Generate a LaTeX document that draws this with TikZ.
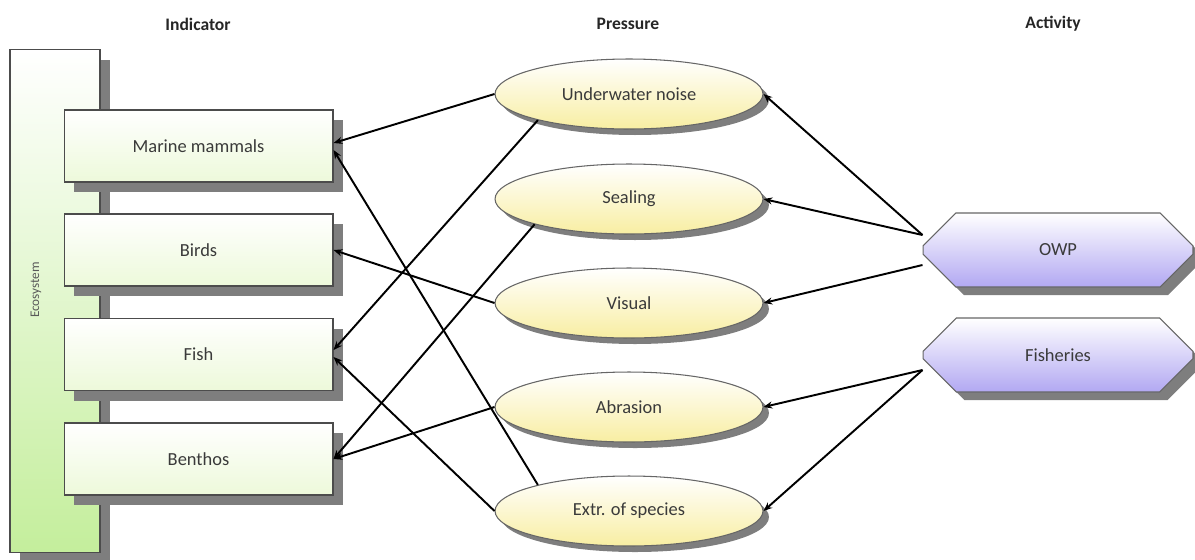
\documentclass[tikz,border=0pt]{standalone}
\usepackage{fontspec}
\setmainfont{Carlito}
\usetikzlibrary{shapes.geometric,shapes.misc,shadows,arrows.meta}
\definecolor{indgreen}{HTML}{EDF9DA}
\definecolor{ecogreen}{HTML}{C4EE9C}
\definecolor{presyellow}{HTML}{F8EEA2}
\definecolor{actlilac}{HTML}{B2A8F2}
\definecolor{shadegray}{HTML}{7E7E7E}
\definecolor{txtgray}{HTML}{3A3A3A}
\tikzset{
	txt/.style={font=\fontsize{10.5}{12}\selectfont,text=txtgray},
	head/.style={font=\fontsize{10}{12}\selectfont\bfseries,text=black!85},
	indbox/.style={txt,rectangle,draw=black!70,line width=.6pt,minimum width=5.38cm,minimum height=1.44cm,top color=white,bottom color=indgreen,drop shadow={shadow xshift=.2cm,shadow yshift=-.2cm,fill=shadegray,opacity=1}},
	ecobox/.style={rectangle,draw=black!70,line width=.6pt,minimum width=1.8cm,minimum height=10.06cm,top color=white,bottom color=ecogreen,drop shadow={shadow xshift=.2cm,shadow yshift=-.2cm,fill=shadegray,opacity=1}},
	presell/.style={txt,ellipse,draw=black!60,line width=.6pt,inner sep=0pt,minimum width=5.36cm,minimum height=1.4cm,top color=white,bottom color=presyellow,drop shadow={shadow xshift=.12cm,shadow yshift=-.12cm,fill=shadegray,opacity=1}},
	actbox/.style={txt,chamfered rectangle,chamfered rectangle xsep=.42cm,chamfered rectangle ysep=.42cm,draw=black!60,line width=.6pt,minimum width=5.4cm,minimum height=1.48cm,top color=white,bottom color=actlilac,drop shadow={shadow xshift=.16cm,shadow yshift=-.16cm,fill=shadegray,opacity=1}},
	arr/.style={-{Stealth[length=5pt,width=4pt]},line width=1.1pt,black}
}
\begin{document}
\begin{tikzpicture}[x=0.02cm,y=-0.02cm]
	\useasboundingbox (0,0) rectangle (1195,559);
	\node[head] (hind) at (198,24) {Indicator};
	\node[head] (hpres) at (628,24) {Pressure};
	\node[head] (hact) at (1053,24) {Activity};

	\node[ecobox] (eco) at (55,301) {};
	\node[rotate=90,font=\fontsize{7.5}{9}\selectfont,text=black!65] (ecotxt) at (36,290) {Ecosystem};

	\node[indbox] (mammals) at (198.5,146) {Marine mammals};
	\node[indbox] (birds) at (198.5,250) {Birds};
	\node[indbox] (fish) at (198.5,354.5) {Fish};
	\node[indbox] (benthos) at (198.5,459) {Benthos};

	\node[presell] (noise) at (629,94) {Underwater noise};
	\node[presell] (sealing) at (629,199) {Sealing};
	\node[presell] (visual) at (629,303) {Visual};
	\node[presell] (abrasion) at (629,407) {Abrasion};
	\node[presell] (extr) at (629,511) {Extr. of species};

	\node[actbox] (owp) at (1058,250) {OWP};
	\node[actbox] (fisheries) at (1058,355) {Fisheries};

	\draw[arr] (noise.west) -- ([yshift=.06cm]mammals.east);
	\draw[arr] (noise.196) -- ([yshift=.09cm]fish.east);
	\draw[arr] (sealing.195) -- (benthos.east);
	\draw[arr] (visual.west) -- (birds.east);
	\draw[arr] (abrasion.west) -- (benthos.east);
	\draw[arr] (extr.164) -- ([yshift=-.08cm]mammals.east);
	\draw[arr] (extr.west) -- ([yshift=-.05cm]fish.east);
	\draw[arr] ([yshift=.3cm]owp.west) -- (noise.east);
	\draw[arr] ([yshift=.3cm]owp.west) -- (sealing.east);
	\draw[arr] ([yshift=-.3cm]owp.west) -- (visual.east);
	\draw[arr] ([yshift=-.3cm]fisheries.west) -- (abrasion.east);
	\draw[arr] ([yshift=-.3cm]fisheries.west) -- (extr.east);
\end{tikzpicture}
\end{document}
